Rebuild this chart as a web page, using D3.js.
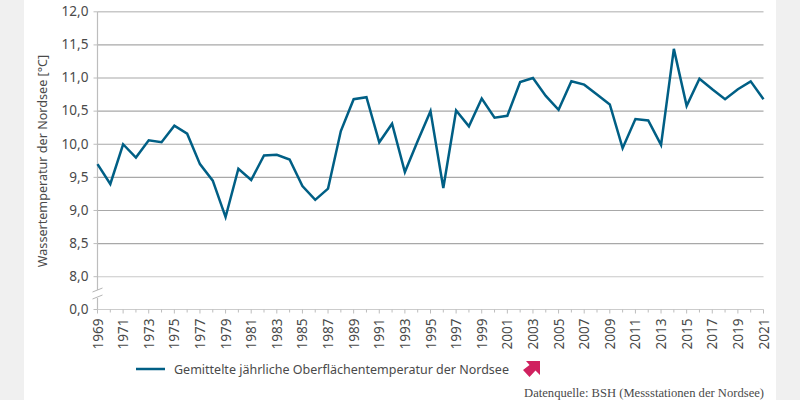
<!DOCTYPE html>
<html><head><meta charset="utf-8">
<script src="https://cdn.jsdelivr.net/npm/d3@7/dist/d3.min.js"></script>
<style>
html,body{margin:0;padding:0;background:#f0f0f0}
svg{display:block}
text{font-family:"Noto Sans",sans-serif;fill:#4a4a4a}
</style></head><body>
<svg id="c" width="800" height="400"></svg>
<script>
const years=d3.range(1969,2022);
const temperature=[9.7,9.4,10.0,9.8,10.06,10.03,10.28,10.16,9.7,9.45,8.9,9.63,9.46,9.83,9.84,9.77,9.37,9.16,9.33,10.2,10.68,10.71,10.03,10.31,9.58,10.05,10.5,9.34,10.51,10.27,10.69,10.4,10.43,10.94,11.0,10.73,10.52,10.95,10.9,10.75,10.6,9.94,10.38,10.36,9.99,11.44,10.58,10.99,10.83,10.68,10.83,10.95,10.68];
const yTicks=[0,8,8.5,9,9.5,10,10.5,11,11.5,12];
const seriesName="Gemittelte jährliche Oberflächentemperatur der Nordsee";
const yTitle="Wassertemperatur der Nordsee [°C]";
const source="Datenquelle: BSH (Messstationen der Nordsee)";

const svg=d3.select("#c");
svg.append("rect").attr("x",24).attr("y",0).attr("width",752).attr("height",400).attr("fill","#fff");
const x=d3.scaleLinear().domain([1969,2021]).range([97.5,763.5]);
const y=d3.scaleLinear().domain([0,8,12]).range([309.5,276.7,11.8]);
const fmt=v=>v.toFixed(1).replace(".",",");

svg.append("g").selectAll("line").data(yTicks.filter(d=>d>=8)).join("line")
  .attr("x1",x(1969)).attr("x2",x(2021)).attr("y1",d=>y(d)).attr("y2",d=>y(d))
  .attr("stroke",d=>d===12||d===8?"#c8c8c8":"#a8a8a8").attr("stroke-width",d=>d===12?1.5:1.1);
svg.append("line").attr("x1",x(1969)).attr("x2",x(2021)).attr("y1",y(0)).attr("y2",y(0)).attr("stroke","#cccccc").attr("stroke-width",1.2);
svg.append("line").attr("x1",x(1969)).attr("x2",x(1969)).attr("y1",y(12)).attr("y2",290).attr("stroke","#bdbdbd").attr("stroke-width",1.2);
svg.append("line").attr("x1",x(1969)).attr("x2",x(1969)).attr("y1",298).attr("y2",y(0)).attr("stroke","#bdbdbd").attr("stroke-width",1.2);
[0,7].forEach(o=>svg.append("path").attr("d",`M${x(1969)-5},${292+o}L${x(1969)+5},${288+o}`).attr("stroke","#b5b5b5").attr("stroke-width",1).attr("fill","none"));
svg.append("g").selectAll("line").data(yTicks).join("line")
  .attr("x1",x(1969)-4).attr("x2",x(1969)).attr("y1",d=>y(d)).attr("y2",d=>y(d))
  .attr("stroke","#bdbdbd").attr("stroke-width",1);
svg.append("g").selectAll("text").data(yTicks).join("text")
  .attr("x",88.5).attr("y",d=>y(d)+4.3).attr("text-anchor","end").attr("font-size",13.6).text(fmt);
svg.append("g").selectAll("line").data(years).join("line")
  .attr("x1",d=>x(d)).attr("x2",d=>x(d)).attr("y1",y(0)).attr("y2",d=>(d-1969)%2?y(0)+3:y(0)+4)
  .attr("stroke","#bdbdbd").attr("stroke-width",1);
svg.append("g").selectAll("text").data(years.filter(d=>(d-1969)%2===0)).join("text")
  .attr("transform",d=>`translate(${x(d)+5},349.5) rotate(-90)`).attr("font-size",13.6).text(d=>d);
svg.append("text").attr("transform","translate(47,161) rotate(-90)").attr("text-anchor","middle").attr("font-size",12.6).text(yTitle);
const line=d3.line().x((d,i)=>x(years[i])).y(d=>y(d));
svg.append("path").datum(temperature).attr("d",line).attr("fill","none").attr("stroke","#005f85").attr("stroke-width",2.5).attr("stroke-linejoin","miter");
svg.append("line").attr("x1",136).attr("x2",165).attr("y1",369).attr("y2",369).attr("stroke","#005f85").attr("stroke-width",2.5);
svg.append("text").attr("x",174).attr("y",373.5).attr("font-size",12.5).text(seriesName);
svg.append("path").attr("d","M540,361L540,375L535.5,370.5L529.5,377L523,370L529.5,365L526,361Z").attr("fill","#d0215f");
svg.append("text").attr("x",764).attr("y",397).attr("text-anchor","end").attr("font-size",12.6).style("font-family","'Liberation Serif',serif").text(source);
</script></body></html>
